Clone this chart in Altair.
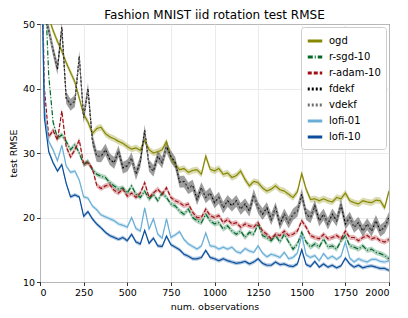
import altair as alt
import pandas as pd

# sample grid (num. observations)
X = list(range(0, 2001, 25))

OGD = [80, 60, 51, 49, 47.3, 45.8, 44, 42.5, 41, 38.5,
       36, 34.8, 33, 33.8, 34, 33, 32.5, 32.2, 31.8, 31.5,
       31, 30.6, 30.8, 30.4, 32, 30.5, 30, 30.2, 30.5, 31.8,
       29.2, 28.2, 27.4, 27.6, 27, 27.3, 27.4, 26.7, 29.5, 27.5,
       27.2, 27.6, 26.7, 26.9, 26.2, 26.5, 27.2, 25.9, 24.9, 25.6,
       25.4, 24.6, 24.1, 24.4, 24.9, 24.3, 24.1, 23.6, 23.1, 24,
       26.8, 24.4, 22.8, 22.9, 22.6, 22.9, 22.6, 22.4, 23.1, 22.9,
       23.8, 22.6, 22.3, 22.1, 22.6, 22.4, 22.3, 22.7, 22.6, 21.5,
       24.1]

RSGD = [80, 58, 42, 34.8, 32.3, 32.8, 31.8, 30.5, 31.3, 30,
        28.2, 28.7, 27.4, 26.7, 26.4, 26.2, 25.4, 24.9, 24.4, 24.6,
        23.8, 24.9, 23.6, 23.1, 24.1, 22.8, 23.6, 22.6, 23.8, 23.1,
        22.1, 21.8, 21, 20.5, 21.3, 20, 19.5, 19.2, 20.5, 19.5,
        19, 19.2, 18.2, 18.7, 17.9, 17.4, 17.9, 16.9, 17.7, 17.4,
        19, 17.2, 16.9, 16.4, 17.2, 16.2, 17.4, 16.2, 15.1, 15.9,
        17.7, 16.2, 15.4, 15.9, 15.4, 16.7, 15.4, 15.6, 15.1, 16.4,
        17.2, 15.6, 15.4, 15.1, 15.6, 14.9, 15.1, 14.6, 14.4, 14.1,
        13.6]

RADAM = [75, 40, 32.5, 33.5, 32, 36.5, 31, 29.4, 30.5, 32,
         28.3, 28.5, 27.6, 25, 24.5, 24.9, 25.1, 24.2, 23.8, 24.4,
         23.3, 23.8, 23.1, 23.8, 25.4, 23.1, 23.8, 24.4, 23.6, 24.6,
         23.1, 22.6, 22.3, 21.8, 22.1, 20.8, 20, 20, 21.3, 20.3,
         20, 20.3, 19.2, 19.7, 19, 19.2, 18.5, 19, 18.7, 18.5,
         19.2, 17.9, 17.4, 16.7, 17.4, 17.2, 17.9, 17.2, 17.4, 17.9,
         19.5, 18.5, 17.2, 16.9, 16.7, 17.4, 16.7, 16.9, 17.2, 16.7,
         17.9, 16.9, 16.9, 16.4, 16.9, 17.2, 16.7, 16.9, 16.4, 16.2,
         16.6]

FDEKF = [75, 52, 49, 46, 43, 49.5, 38.5, 37.5, 38, 45,
         35.5, 40, 32, 29.5, 29.5, 30.5, 29, 28.5, 30.3, 27.7,
         28, 29.2, 26.7, 28.7, 33.5, 28, 27.2, 29.5, 28.5, 31,
         29.5, 28.5, 25.5, 25.6, 24.5, 25, 22.8, 24.6, 23.1, 23.8,
         22.3, 23.1, 21.5, 22.6, 21.8, 22.6, 21.3, 22.1, 21, 23.5,
         21.5, 20.5, 21.5, 19.7, 21.5, 19, 20.5, 19.2, 20.5, 21,
         23.6, 20.5, 20, 21.8, 19.5, 20.5, 19, 20.5, 19.5, 22,
         19, 20, 18.5, 19.2, 17.9, 19, 17.9, 19.5, 17.9, 18.5,
         20]

VDEKF = [75, 52, 49.2, 45.8, 43.2, 49.3, 38.7, 37.4, 38.2, 44.8,
         35.6, 39.8, 32.2, 29.6, 29.4, 30.6, 29.1, 28.4, 30.2, 27.8,
         28.1, 29.1, 26.8, 28.6, 33.3, 28.1, 27.3, 29.4, 28.6, 30.8,
         29.4, 28.4, 25.6, 25.5, 24.6, 24.9, 22.9, 24.5, 23.2, 23.7,
         22.4, 23, 21.6, 22.5, 21.9, 22.5, 21.4, 22, 21.1, 23.4,
         21.6, 20.6, 21.4, 19.8, 21.4, 19.1, 20.4, 19.3, 20.4, 21.1,
         23.4, 20.6, 20.1, 21.7, 19.6, 20.4, 19.1, 20.4, 19.6, 21.8,
         19.1, 19.9, 18.6, 19.1, 18, 18.9, 18, 19.4, 18, 18.4,
         19.8]

LOFI01 = [75, 37, 31.8, 30.5, 28.8, 31.2, 28, 27, 27.2, 25.8,
          23.2, 23, 21.8, 21.2, 20.4, 20.1, 19.8, 19.5, 19, 18.8,
          18.5, 20, 18.3, 17.9, 21.5, 18.2, 19.8, 17.4, 16.8, 19.8,
          16.9, 17.3, 17.8, 16.6, 15.9, 15.5, 15.1, 15.6, 17.6, 15.6,
          15.5, 15.1, 15.4, 15.1, 15.4, 14.7, 14.5, 15.2, 14.8, 14.6,
          15.6, 14.5, 13.9, 14.3, 14.1, 13.8, 14.6, 13.6, 13.8, 14.5,
          17.3, 14.2, 13.8, 14.1, 13.3, 14.4, 13.6, 14, 13.5, 14,
          16.2, 13.7, 13.1, 13.6, 13.3, 13.1, 13.5, 13.5, 13.2, 13.1,
          13.3]

LOFI10 = [75, 35.5, 30.2, 28.5, 27.2, 28.2, 25.3, 23.2, 23.5, 23.2,
          20.2, 20.9, 19.8, 19, 18.4, 17.7, 17.2, 16.9, 16.6, 16.9,
          16.4, 17.4, 16.2, 15.9, 18, 16, 16.8, 15.6, 15.5, 17.1,
          15.8, 15.4, 15, 14.3, 14, 13.6, 13.6, 13.8, 14.9, 13.8,
          13.6, 13.3, 13.6, 13.3, 13.1, 12.9, 13, 13.2, 12.8, 13.1,
          13.6, 12.9, 12.6, 12.6, 13.1, 12.7, 12.8, 12.5, 12.4, 12.8,
          15, 12.7, 12.4, 13.2, 12.3, 12.8, 12.3, 12.6, 12.2, 12.5,
          13.7, 12.8, 12.3, 12.6, 12.2, 12.4, 12.5, 12.3, 12.1, 12.1,
          11.8]

METHODS = ["ogd", "r-sgd-10", "r-adam-10", "fdekf", "vdekf", "lofi-01", "lofi-10"]
SERIES = [OGD, RSGD, RADAM, FDEKF, VDEKF, LOFI01, LOFI10]
BAND = [0.5, 0.4, 0.4, 0.9, 0.9, 0.3, 0.3]
COLORS = ["#878700", "#00692a", "#a10f14", "#000000", "#6e6e6e", "#6aaed6", "#0b4f9c"]
DASHES = [[1, 0], [5, 2, 1, 2], [4, 2], [2, 2], [2, 2], [1, 0], [1, 0]]
XTICKS = [0, 250, 500, 750, 1000, 1250, 1500, 1750, 2000]
YTICKS = [10, 15, 20, 25, 30, 35, 40, 45, 50]

rows = []
for i, (m, ys, b) in enumerate(zip(METHODS, SERIES, BAND)):
    for x, y in zip(X, ys):
        rows.append({"method": m, "k": i, "x": x, "y": y, "lo": y - b, "hi": y + b})
df = pd.DataFrame(rows)

xenc = alt.X("x:Q", title="num. observations",
             scale=alt.Scale(domain=[0, 2000], nice=False),
             axis=alt.Axis(values=XTICKS, format="d"))
yscale = alt.Scale(domain=[10, 50], nice=False, zero=False)

color_scale = alt.Scale(domain=METHODS, range=COLORS)
dash_scale = alt.Scale(domain=METHODS, range=DASHES)
legend = alt.Legend(orient="top-right", title=None, symbolType="stroke",
                    symbolStrokeWidth=3.2, symbolSize=210, labelFontSize=10,
                    labelFont="DejaVu Sans", rowPadding=0, padding=5,
                    offset=3, strokeColor="#cccccc", fillColor="#ffffff",
                    cornerRadius=3, labelOffset=5, symbolOpacity=1)

bands = alt.Chart(df).mark_area(opacity=0.3, clip=True).encode(
    x=xenc,
    y=alt.Y("lo:Q", scale=yscale, title="test RMSE",
            axis=alt.Axis(values=YTICKS, format="d")),
    y2="hi:Q",
    color=alt.Color("method:N", scale=color_scale, sort=METHODS, legend=legend, title=None),
    detail="method:N",
)

lines = alt.Chart(df).mark_line(strokeWidth=1.2, clip=True).encode(
    x=xenc,
    y=alt.Y("y:Q", scale=yscale),
    color=alt.Color("method:N", scale=color_scale, sort=METHODS, legend=legend, title=None),
    strokeDash=alt.StrokeDash("method:N", scale=dash_scale, sort=METHODS,
                              legend=legend, title=None),
)

chart = alt.layer(bands, lines).properties(
    width=349, height=258,
    autosize="none",
    title=alt.Title("Fashion MNIST iid rotation test RMSE", fontSize=12,
                    font="DejaVu Sans", fontWeight="normal", offset=4, dy=7),
    padding={"left": 32, "top": 16, "right": 11, "bottom": 28},
).configure_view(
    stroke="black", strokeWidth=1
).configure_axis(
    labelFont="DejaVu Sans", titleFont="DejaVu Sans", labelFontSize=9.5,
    titleFontSize=9.5, titleFontWeight="normal", labelColor="black",
    titleColor="black", domain=False, tickColor="black", tickSize=3.5,
    tickWidth=0.8, gridColor="#e6e6e6", gridWidth=0.8, labelPadding=2,
    titlePadding=4
)

chart.save("out.html", embed_options={"renderer": "svg", "actions": False})
